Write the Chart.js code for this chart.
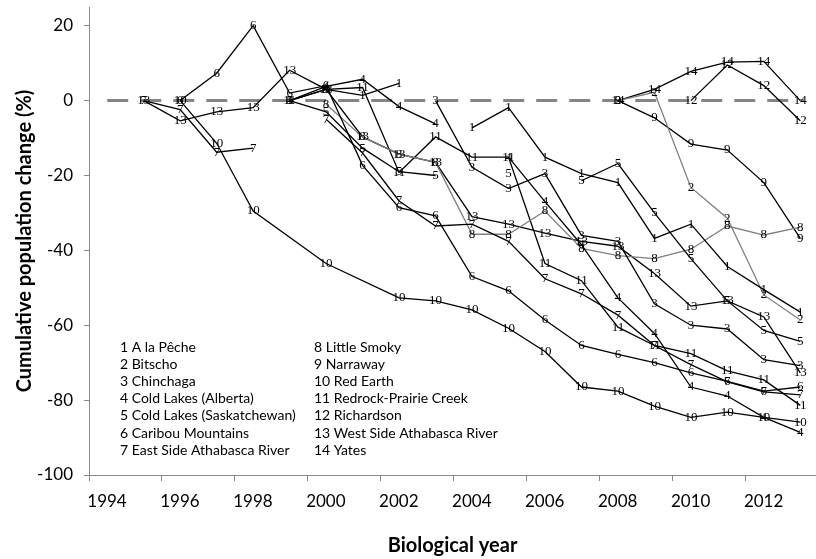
<!DOCTYPE html>
<html>
<head>
<meta charset="utf-8">
<script src="https://cdn.jsdelivr.net/npm/chart.js@4.4.1/dist/chart.umd.min.js"></script>
<style>
html, body { margin: 0; padding: 0; background: #fff; }
canvas { display: block; }
</style>
</head>
<body>
<canvas id="herdChart" width="816" height="559"></canvas>
<script>
// biological years, one value per year (null = no survey)
const years = [1995, 1996, 1997, 1998, 1999, 2000, 2001, 2002, 2003, 2004,
               2005, 2006, 2007, 2008, 2009, 2010, 2011, 2012, 2013];

const herdNames = ['A la Pêche', 'Bitscho', 'Chinchaga', 'Cold Lakes (Alberta)',
  'Cold Lakes (Saskatchewan)', 'Caribou Mountains', 'East Side Athabasca River',
  'Little Smoky', 'Narraway', 'Red Earth', 'Redrock-Prairie Creek', 'Richardson',
  'West Side Athabasca River', 'Yates'];

const s1  = [null, null, null, null, 0, 3, 1.4, 4.6, null, -7.3, -1.9, -15.1, -19.5, -21.9, -36.8, -33, -44.3, -50.5, -56.5];
const s2  = [null, null, null, null, null, null, null, null, null, null, null, null, null, 0, 2.2, -23.2, -31.4, -51.9, -58.6];
const s3  = [null, null, null, null, null, null, null, null, 0, -17.8, -23.5, -19.5, -36, -37.6, -54.3, -60, -61, -69.2, -70.8];
const s4  = [null, null, null, null, 0, 3.8, 5.7, -1.6, -6.2, null, -15.1, -27, -38.5, -52.7, -62.2, -76.5, -78.9, -84.6, -88.6];
const s5  = [null, null, null, null, 0, -3, -12.7, -19, -20, null, -19.5, null, -21.4, -16.8, -30, -42.2, -53.5, -61.4, -64.3];
const s6  = [null, 0, 7.3, 20, 2, 4, -17.3, -28.6, -30.8, -47, -50.8, -58.6, -65.4, -67.8, -70, -72.7, -75, -77.6, -76.5];
const s7  = [0, -2.4, -13.8, -12.7, null, -5, -14, -26.8, -33.5, -33, -37.6, -47.6, -51.6, -57.3, -65.4, -70.5, -75.1, -77.8, -78.6];
const s8  = [null, null, null, null, null, -1, -9.7, -14.3, -16.5, -35.7, -35.7, -29.5, -39.5, -41.4, -42.2, -39.7, -33.5, -35.9, -33.8];
const s9  = [null, null, null, null, null, null, null, null, null, null, null, null, null, 0, -4.6, -11.6, -13.2, -21.9, -36.8];
const s10 = [null, 0, -11.4, -29.5, null, -43.5, null, -52.7, -53.5, -55.9, -60.8, -67, -76.5, -77.6, -81.6, -84.6, -83.2, -84.6, -85.9];
const s11 = [null, null, null, null, 0, 3, 3.5, -19.2, -9.7, -15.1, -15.1, -43.5, -48.1, -60.5, -65.4, -67.6, -72.2, -74.6, -81.4];
const s12 = [null, null, null, null, null, null, null, null, null, null, null, null, null, null, null, 0, 9.5, 4, -5.4];
const s13 = [0, -5.4, -3, -1.9, 8.1, 3, -9.7, -14.3, -16.5, -31, -33, -35.4, -37.6, -38.9, -46.2, -54.9, -53.5, -57.8, -72.7];
const s14 = [null, null, null, null, null, null, null, null, null, null, null, null, null, 0, 3, 7.8, 10.3, 10.5, 0];

const series = [s1, s2, s3, s4, s5, s6, s7, s8, s9, s10, s11, s12, s13, s14];
const grayHerds = [2, 8];
const joinedHerds = [10];   // line drawn straight over missing years

const xTicks = [1994, 1996, 1998, 2000, 2002, 2004, 2006, 2008, 2010, 2012];
const yTicks = [-100, -80, -60, -40, -20, 0, 20];

const datasets = series.map((vals, i) => ({
  tag: String(i + 1),
  data: vals.map((v, j) => ({ x: years[j], y: v })),
  borderColor: grayHerds.includes(i + 1) ? '#7f7f7f' : '#000',
  borderWidth: 1.3,
  pointRadius: 0,
  spanGaps: joinedHerds.includes(i + 1),
  fill: false
}));

// zero reference line
datasets.push({
  data: [{ x: 1994, y: 0 }, { x: 2013.1, y: 0 }],
  borderColor: '#858585',
  borderWidth: 3,
  borderDash: [21, 12],
  pointRadius: 0,
  fill: false
});

// draw each herd number on top of its points
const herdTags = {
  id: 'herdTags',
  afterDatasetsDraw(chart) {
    const ctx = chart.ctx;
    ctx.save();
    ctx.font = '13px "Liberation Serif"';
    ctx.fillStyle = '#000';
    ctx.textAlign = 'center';
    ctx.textBaseline = 'middle';
    chart.data.datasets.forEach((ds, i) => {
      if (!ds.tag) return;
      chart.getDatasetMeta(i).data.forEach(pt => {
        if (pt.skip) return;
        ctx.fillText(ds.tag, pt.x, pt.y);
      });
    });
    ctx.restore();
  }
};

// numbered herd key inside the plot
const herdKey = {
  id: 'herdKey',
  afterDraw(chart) {
    const ctx = chart.ctx;
    ctx.save();
    ctx.font = '14px Lato';
    ctx.fillStyle = '#000';
    ctx.textAlign = 'left';
    ctx.textBaseline = 'middle';
    herdNames.forEach((name, i) => {
      const col = i < 7 ? 0 : 1;
      const row = i % 7;
      ctx.fillText((i + 1) + ' ' + name, col ? 314 : 120, 347 + row * 17.2);
    });
    ctx.restore();
  }
};

new Chart(document.getElementById('herdChart'), {
  type: 'line',
  data: { datasets },
  plugins: [herdTags, herdKey],
  options: {
    responsive: false,
    animation: false,
    devicePixelRatio: 1,
    layout: { padding: { top: 7, right: 0, left: 0, bottom: 0 } },
    plugins: { legend: { display: false }, tooltip: { enabled: false } },
    scales: {
      x: {
        type: 'linear',
        min: 1993.5,
        max: 2013.43,
        afterBuildTicks: s => { s.ticks = xTicks.map(v => ({ value: v - 0.5 })); },
        afterFit: s => { s.height = 84; s.paddingLeft = 0; s.paddingRight = 0; },
        ticks: {
          callback: v => String(Math.round(v + 0.5)),
          labelOffset: 18,
          autoSkip: false,
          maxRotation: 0,
          padding: 10,
          color: '#000',
          font: { family: 'Lato', size: 17 }
        },
        grid: { drawOnChartArea: false, tickLength: 6, color: '#898989' },
        border: { color: '#898989' },
        title: {
          display: true,
          text: 'Biological year',
          color: '#000',
          font: { family: 'Lato', size: 20, weight: 'bold' },
          padding: { top: 0, bottom: 1 }
        }
      },
      y: {
        min: -100,
        max: 25,
        afterBuildTicks: s => { s.ticks = yTicks.map(v => ({ value: v })); },
        afterFit: s => { s.width = 89; s.paddingTop = 0; s.paddingBottom = 0; },
        ticks: { padding: 11, color: '#000', font: { family: 'Lato', size: 17 } },
        grid: { drawOnChartArea: false, tickLength: 5, color: '#898989' },
        border: { color: '#898989' },
        title: {
          display: true,
          text: 'Cumulative population change (%)',
          color: '#000',
          font: { family: 'Lato', size: 20, weight: 'bold' },
          padding: { top: 13, bottom: 0 }
        }
      }
    }
  }
});
</script>
</body>
</html>
